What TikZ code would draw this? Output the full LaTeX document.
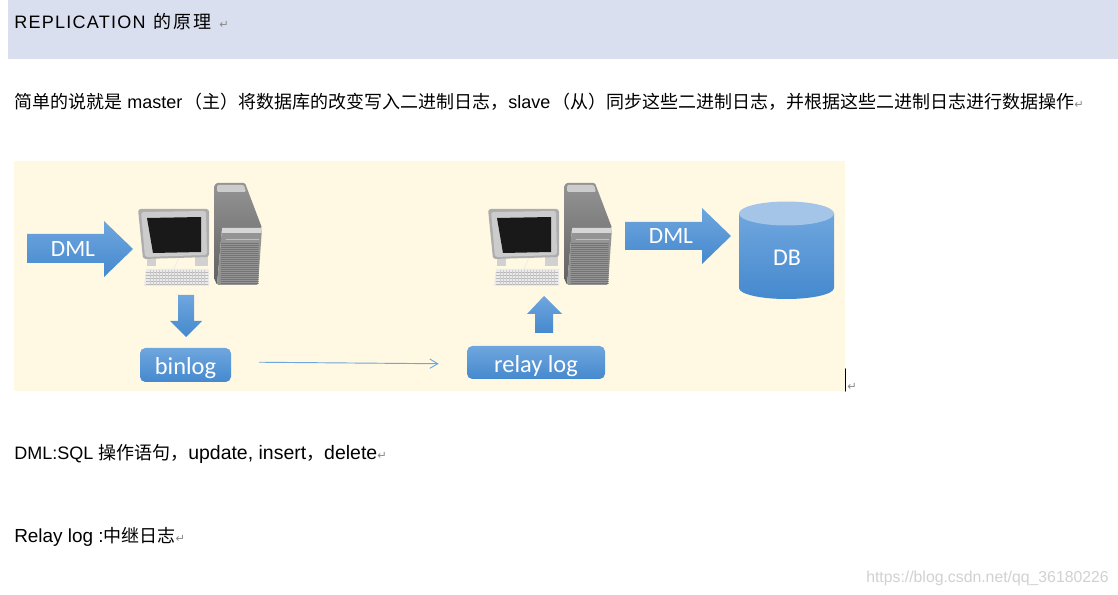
\documentclass[tikz,border=0pt]{standalone}
\usepackage{fontspec}
\setmainfont{Liberation Sans}
\newfontfamily\cjk{Noto Sans CJK SC}
\newfontfamily\lab{Carlito}
\newfontfamily\sym{DejaVu Sans}
\usetikzlibrary{arrows.meta}
\definecolor{bandcol}{HTML}{D9DFEF}
\definecolor{panelcol}{HTML}{FFF9E3}
\definecolor{bluetop}{HTML}{6FA6DE}
\definecolor{bluebot}{HTML}{4589CE}
\definecolor{dbtop}{HTML}{A4C5E8}
\definecolor{ret}{HTML}{8A8A8A}
\newcommand{\retmark}{{\sym\fontsize{8.5pt}{9pt}\selectfont\textcolor{ret}{↵}}}
\tikzset{
	bluefill/.style={top color=bluetop,bottom color=bluebot,draw=none},
	boxlabel/.style={bluefill,rounded corners=4pt,text=white,font=\lab\fontsize{18.3pt}{20pt}\selectfont,inner sep=0pt,text height=15pt,text depth=0pt},
	arrowlabel/.style={text=white,font=\lab\fontsize{17.5pt}{20pt}\selectfont,inner sep=0pt},
	textline/.style={anchor=base west,inner sep=0pt,font=\fontsize{13.5pt}{16pt}\selectfont},
	computer/.pic={
		% tower
		\path [top color=black!42,bottom color=black!62,rounded corners=1pt] (76,4) -- (78,0) -- (107,0) -- (124,45) -- (84,45) -- (79,102) -- (76,95) -- cycle;
		\fill [black!20,rounded corners=1pt] (79,2) -- (106,2) -- (108,9) -- (79,9) -- cycle;
		\fill [black!42,rounded corners=1pt] (84,45) -- (124,45) -- (120,102) -- (79,102) -- cycle;
		\fill [black!16] (84,45) -- (124,45) -- (123.6,50) -- (84,50) -- cycle;
		\draw [black!25,line width=0.6pt] (88,56) -- (121,56);
		\foreach \k in {60,62,...,100} {
			\draw [black!55,line width=0.3pt] (83,\k) -- (120.5,\k);
		}
		% monitor
		\fill [black!18] (9,70) rectangle (18,83);
		\fill [black!18] (57,70) rectangle (70,83);
		\draw [black!8,line width=0.5pt] (42,72) -- (36,86);
		\fill [black!32,rounded corners=2pt] (0,26) -- (71,26) -- (71,74) -- (5,76) -- cycle;
		\fill [black!20,rounded corners=2pt] (3,29) -- (68,28) -- (69,72) -- (7,74) -- cycle;
		\fill [black!90] (9,35) -- (63,34) -- (63,69) -- (15,70) -- cycle;
		% keyboard
		\fill [black!8] (8,86) -- (71,86) -- (71,103) -- (6,103) -- cycle;
		\foreach \k in {89,92,...,101} {
			\draw [black!28,line width=0.3pt] (8,\k) -- (70,\k);
		}
		\foreach \k in {12,15,...,68} {
			\draw [black!20,line width=0.3pt] (\k,87) -- (\k,102);
		}
	}
}
\begin{document}
\begin{tikzpicture}[line cap=round,line join=round,x=0.75pt,y=-0.75pt]
	\useasboundingbox (0,0) rectangle (1118,595);
	\fill [white] (0,0) rectangle (1118,595);
	\fill [bandcol] (8,0) rectangle (1118,59);
	\fill [panelcol] (14,161) rectangle (845,391);
	% text lines
	\node (title) [textline] at (14,29) {\addfontfeature{LetterSpace=7}REPLICATION {\cjk\addfontfeature{LetterSpace=11}\hspace{1.5pt}的原理}\hspace{1pt} \retmark};
	\node (intro) [textline] at (14,109) {{\cjk 简单的说就是} master\hspace{1.5pt}{\cjk （主）将数据库的改变写入二进制日志，}slave\hspace{1.5pt}{\cjk （从）同步这些二进制日志，并根据这些二进制日志进行数据操作}\retmark};
	\node (dmlnote) [textline] at (14,459) {DML:SQL {\cjk 操作语句，}{\fontsize{14.6pt}{16pt}\selectfont update, insert}{\cjk ，}{\fontsize{14.6pt}{16pt}\selectfont delete}\retmark};
	\node (relaynote) [textline] at (14,542) {{\fontsize{14.2pt}{16pt}\selectfont Relay log :}{\cjk 中继日志}\retmark};
	\node (mark) [anchor=base west,inner sep=0pt] at (847,391) {\retmark};
	\node (water) [anchor=base east,inner sep=0pt,text=black!18,font=\fontsize{11.85pt}{14pt}\selectfont] at (1109,582) {https://blog.csdn.net/qq\_36180226};
	\draw [line width=0.8pt] (845.5,369) -- (845.5,391);
	% computers
	\pic at (138,183) {computer};
	\pic at (488,183) {computer};
	% arrows
	\path [bluefill] (27,234) -- (104,234) -- (104,221) -- (133,249) -- (104,277) -- (104,263) -- (27,263) -- cycle;
	\node (dmlin) [arrowlabel] at (73,249) {DML};
	\path [bluefill] (178,295) -- (194,295) -- (194,321) -- (202,321) -- (186,337) -- (170,321) -- (178,321) -- cycle;
	\path [bluefill] (544,296) -- (562,314) -- (553,314) -- (553,333) -- (535,333) -- (535,314) -- (527,314) -- cycle;
	\path [bluefill] (625,222) -- (702,222) -- (702,208) -- (731,236) -- (702,264) -- (702,250) -- (625,250) -- cycle;
	\node (dmlout) [arrowlabel] at (671,236) {DML};
	% database
	\path [bluefill] (739,213) -- (739,288) arc (180:0:47.5 and 11) -- (834,213) -- cycle;
	\fill [dbtop] (786.5,213.5) ellipse (47.5 and 12);
	\node (db) [arrowlabel,font=\lab\fontsize{18pt}{20pt}\selectfont] at (787,258) {DB};
	% log boxes
	\node (binlog) [boxlabel,minimum width=68.25pt,minimum height=25.5pt] at (185.5,365) {binlog};
	\node (relaylog) [boxlabel,minimum width=103.5pt,minimum height=24.75pt] at (536,362.5) {relay log};
	\draw [-{Straight Barb[length=6pt,width=7pt]},color=bluetop,line width=0.7pt,shorten <=21pt,shorten >=21pt] ([yshift=2.25pt]binlog.east) -- ([yshift=-1.1pt]relaylog.west);
\end{tikzpicture}
\end{document}
